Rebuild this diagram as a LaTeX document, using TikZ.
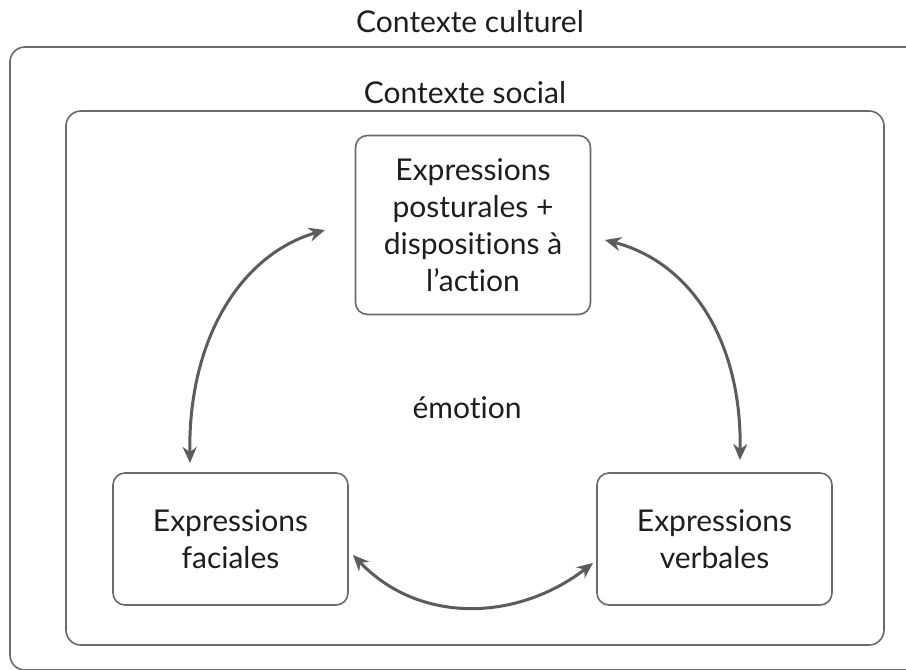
\documentclass[tikz,border=0pt]{standalone}
\usepackage{fontspec}
\setmainfont{Lato}[Ligatures={NoCommon}]
\usetikzlibrary{arrows.meta}
\definecolor{boxline}{HTML}{6A6A6A}
\definecolor{arrowc}{HTML}{5C5C5C}
\definecolor{txt}{HTML}{1E1E1E}
\tikzset{
  frame/.style={draw=boxline,line width=1.6pt,rounded corners=15pt},
  item/.style={draw=boxline,line width=1.6pt,rounded corners=12pt,minimum width=235pt,align=center,text=txt,font=\fontsize{30}{37}\selectfont},
  lbl/.style={text=txt,font=\fontsize{30}{36}\selectfont},
  link/.style={draw=arrowc,line width=3pt,{Stealth[length=16pt,width=14pt]}-{Stealth[length=16pt,width=14pt]}}
}
\begin{document}
\begin{tikzpicture}[x=1pt,y=-1pt]
\useasboundingbox (0,0) rectangle (906,670);
\fill[white] (0,0) rectangle (906,670);
\draw[frame] (10,47) rectangle (925,670);
\draw[frame] (66,111) rectangle (884,645);
\node[lbl] (cult) at (470,22) {Contexte culturel};
\node[lbl] (soc) at (465,93) {Contexte social};
\node[item,minimum height=179pt] (top) at (473,225) {Expressions\\posturales +\\dispositions à\\l’action};
\node[item,minimum height=132pt] (fac) at (230.5,539) {Expressions\\faciales};
\node[item,minimum height=132pt] (verb) at (714.5,539) {Expressions\\verbales};
\node[lbl] (emo) at (467,408) {émotion};
\coordinate (a1) at (190,463);
\coordinate (a2) at (325,230);
\coordinate (b1) at (605,240);
\coordinate (b2) at (740,460);
\coordinate (c1) at (353,555);
\coordinate (c2) at (593,563);
\draw[link] (a1) .. controls (188,340) and (240,255) .. (a2);
\draw[link] (b1) .. controls (690,262) and (742,340) .. (b2);
\draw[link] (c1) .. controls (420,625) and (518,621) .. (c2);
\end{tikzpicture}
\end{document}
